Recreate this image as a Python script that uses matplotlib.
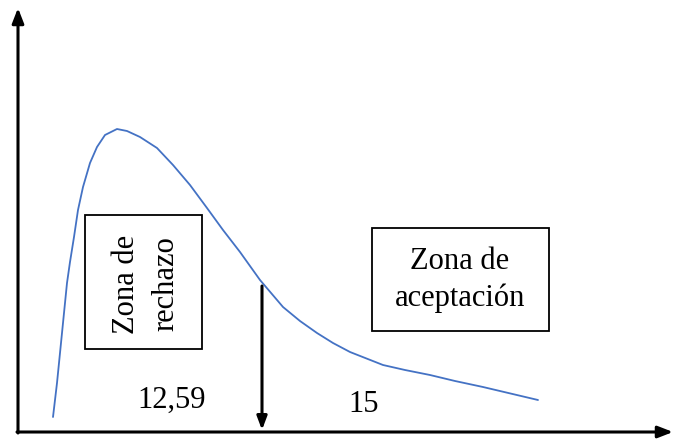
import matplotlib
matplotlib.use("Agg")
import numpy as np
import matplotlib.pyplot as plt
from matplotlib.patches import Rectangle

# curve (x, height above the x axis)
curve_x = [35, 39, 44, 49, 52, 56, 60, 65, 72, 79, 87, 99, 109, 122, 139,
           155, 172, 189, 205, 222, 242, 265, 282, 299, 315, 332, 365, 387,
           412, 437, 465, 520]
curve_y = [15, 49, 99, 149, 170, 195, 222, 245, 269, 285, 297, 303, 301, 295,
           284, 267, 247, 224, 202, 180, 152, 125, 111, 99, 89, 80, 67, 62,
           57, 51, 45, 32]

critical_label = "12,59"
stat_label = "15"
reject_label = "Zona de\nrechazo"
accept_label = "Zona de\naceptación"

plt.rcParams['font.family'] = ['Liberation Serif', 'DejaVu Serif']

fig = plt.figure(figsize=(6.73, 4.42), dpi=100)
ax = fig.add_axes([0, 0, 1, 1])
ax.set_xlim(-18, 655)
ax.set_ylim(-10, 432)
ax.axis('off')

# axes with arrow heads
arrow = dict(arrowstyle='-|>,head_width=0.35,head_length=0.9', color='black',
             lw=2.2, shrinkA=0, shrinkB=0)
ax.annotate('', xy=(0, 424), xytext=(0, -1), arrowprops=arrow)
ax.annotate('', xy=(655, 0), xytext=(-1, 0), arrowprops=arrow)

ax.plot(curve_x, curve_y, color='#4472C4', lw=1.3, solid_capstyle='round',
        solid_joinstyle='round')

# critical value arrow
ax.annotate('', xy=(244, 2), xytext=(244, 146),
            arrowprops=dict(arrowstyle='-|>,head_width=0.3,head_length=0.8',
                            color='black', lw=2.2, shrinkA=0, shrinkB=0))

ax.add_patch(Rectangle((67, 83), 117, 134, fill=False, ec='black', lw=1.3))
ax.add_patch(Rectangle((354, 101), 177, 103, fill=False, ec='black', lw=1.3))

ax.text(128, 148, reject_label, rotation=90, ha='center', va='center',
        fontsize=22, linespacing=1.45)
ax.text(442, 152, accept_label, ha='center', va='center', fontsize=22,
        linespacing=1.3)

ax.text(154, 32, critical_label, ha='center', va='center', fontsize=22)
ax.text(346, 28, stat_label, ha='center', va='center', fontsize=22)

fig.savefig('out.png', dpi=100)
